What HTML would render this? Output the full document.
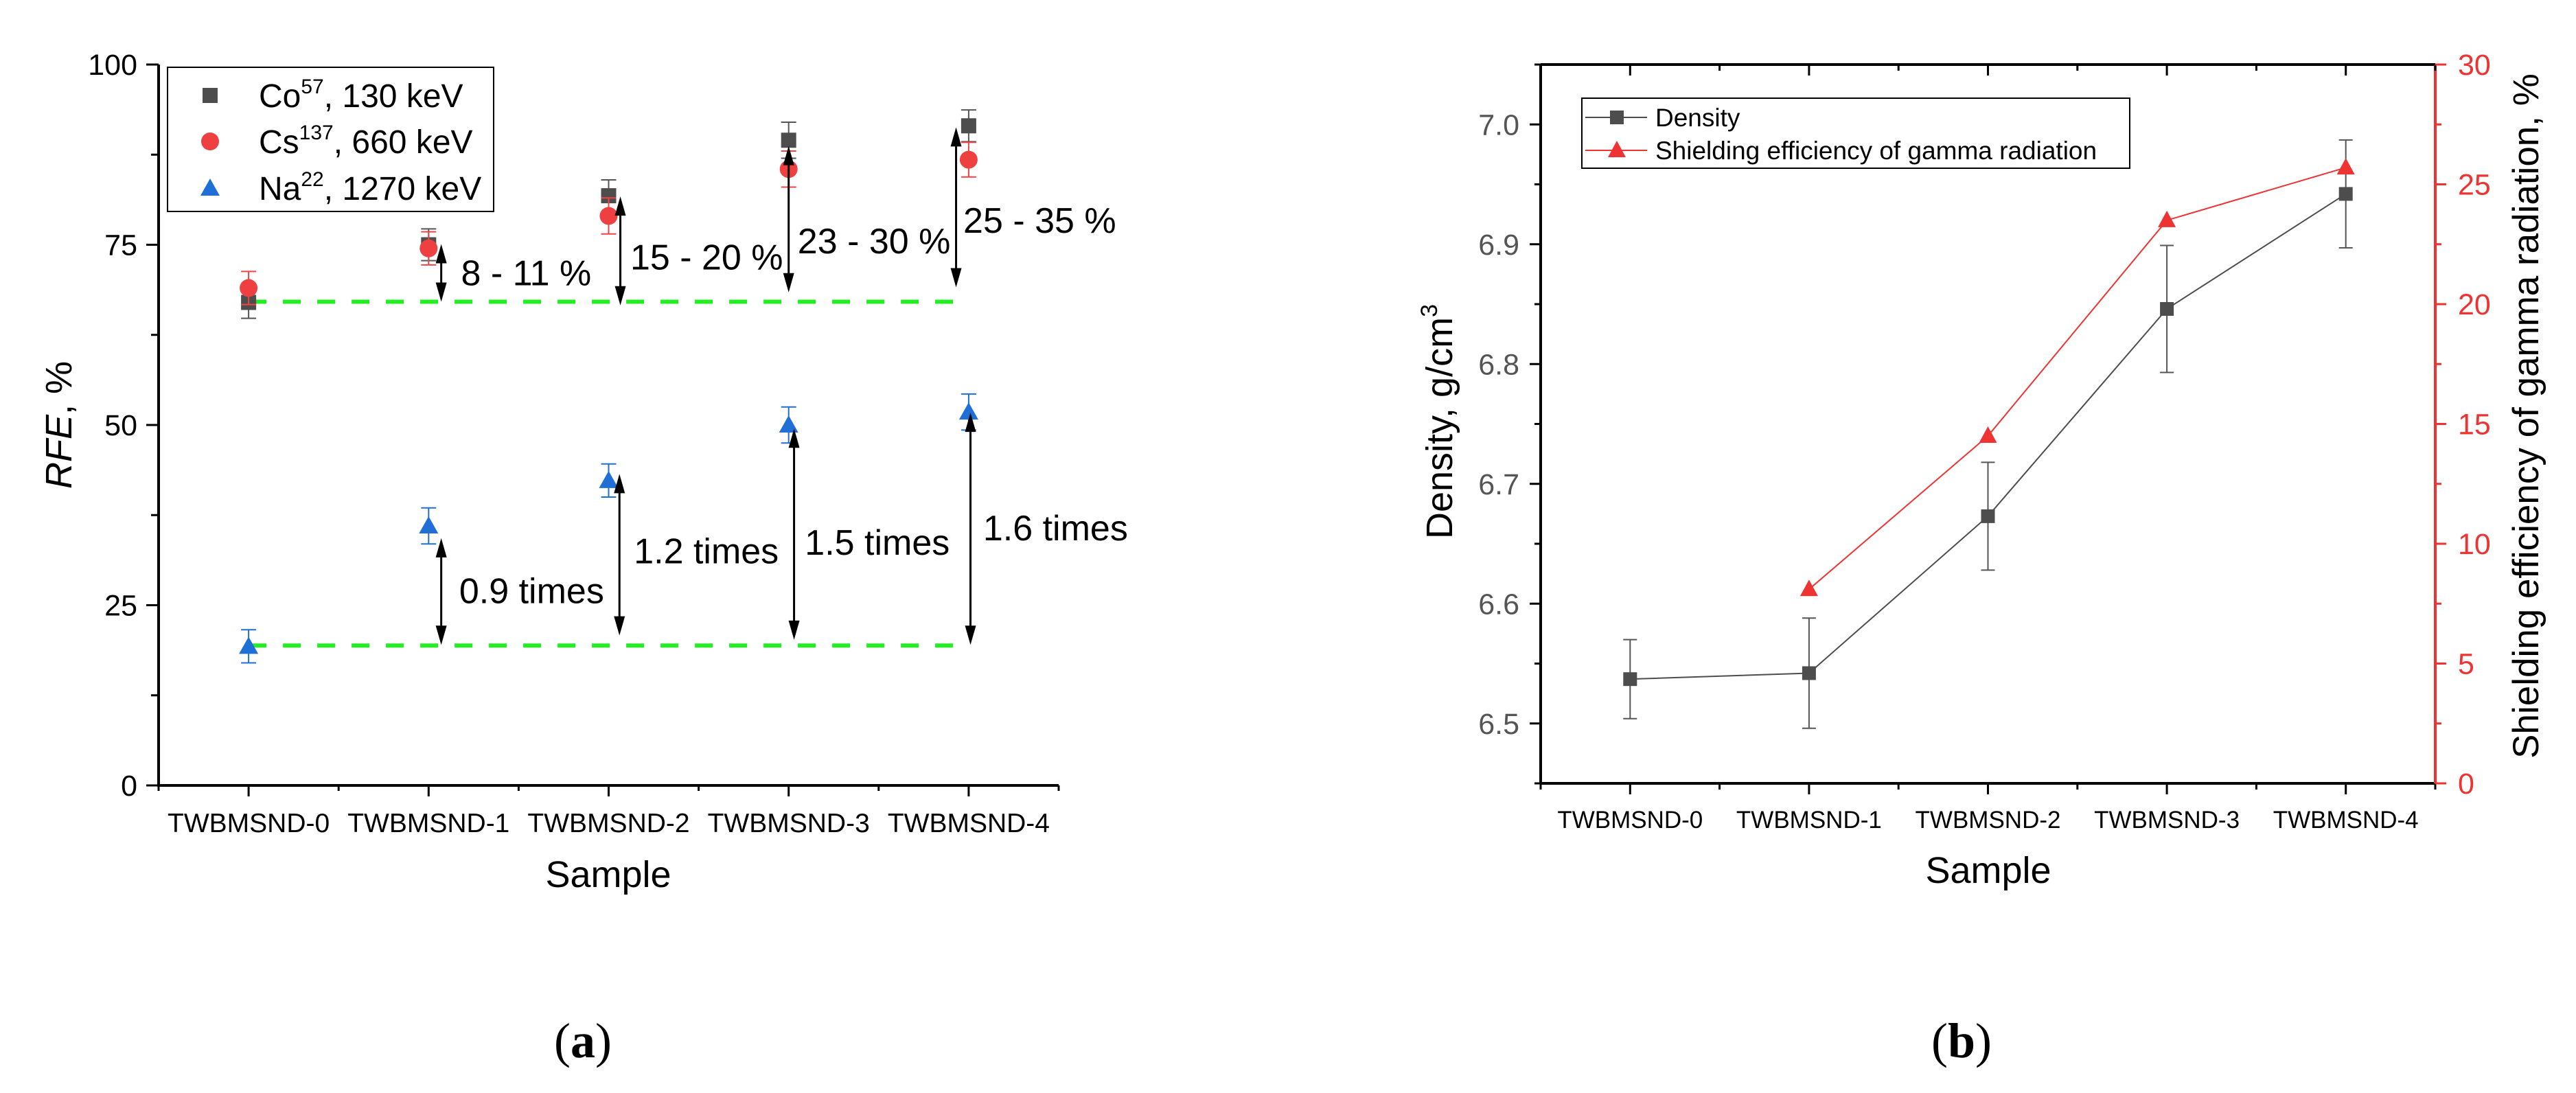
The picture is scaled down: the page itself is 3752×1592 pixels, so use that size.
<!DOCTYPE html>
<html><head><meta charset="utf-8"><style>
html,body{margin:0;padding:0;background:#fff}
svg{display:block;font-family:"Liberation Sans",sans-serif}
</style></head><body>
<svg id="svg" width="3752" height="1592" viewBox="0 0 3752 1592" xmlns="http://www.w3.org/2000/svg">
<g id="A"></g>
<g id="B"></g>
<text x="849" y="1540" font-family="Liberation Serif,serif" font-size="72" text-anchor="middle">(<tspan font-weight="bold">a</tspan>)</text>
<text x="2857" y="1540" font-family="Liberation Serif,serif" font-size="72" text-anchor="middle">(<tspan font-weight="bold">b</tspan>)</text>
</svg>
<script>
const categories=["TWBMSND-0","TWBMSND-1","TWBMSND-2","TWBMSND-3","TWBMSND-4"];
const coValues=[67,75,81.8,89.5,91.5];
const csValues=[69,74.5,79,85.5,86.8];
const naValues=[19.3,36,42.3,50,51.8];
const coErr=[2.2,2.2,2.2,2.5,2.2];
const csErr=[2.3,2.3,2.5,2.5,2.4];
const naErr=[2.3,2.5,2.3,2.5,2.5];
const aTicks=[0,25,50,75,100];
const baseLines=[67.1,19.4];
const arrowX=[1.07,2.065,3.0,3.93,1.07,2.06,3.03,4.01];
const arrowLo=[67.1,66.6,68.4,69.1,19.5,20.8,20.2,19.5];
const arrowHi=[75.1,81.7,88.7,91.3,34.3,43.2,49.5,51.7];
const annoText=["8 - 11 %","15 - 20 %","23 - 30 %","25 - 35 %","0.9 times","1.2 times","1.5 times","1.6 times"];
const annoX=[1.18,2.12,3.05,3.97,1.17,2.14,3.09,4.08];
const annoY=[71.2,73.4,75.6,78.5,27.1,32.6,33.8,35.8];

const densValues=[6.537,6.542,6.673,6.846,6.942];
const densErr=[0.033,0.046,0.045,0.053,0.045];
const shieldValues=[null,8.1,14.5,23.5,25.7];
const bLeftTicks=[6.5,6.6,6.7,6.8,6.9,7.0];
const bRightTicks=[0,5,10,15,20,25,30];

const NS="http://www.w3.org/2000/svg";
function mk(p,t,a,txt){const e=document.createElementNS(NS,t);for(const k in a)e.setAttribute(k,a[k]);if(txt!==undefined)e.textContent=txt;p.appendChild(e);return e;}

// ---- Chart A ----
const A=document.getElementById('A');
const ax=i=>231+(i+0.5)*262.2;
const ay=v=>1144-v*10.5;
mk(A,'line',{x1:231,y1:1144,x2:1542,y2:1144,stroke:'#000','stroke-width':4});
mk(A,'line',{x1:231,y1:94,x2:231,y2:1146,stroke:'#000','stroke-width':4});
for(let k=0;k<=10;k++){const x=231+k*131.1;
 mk(A,'line',{x1:x,y1:1144,x2:x,y2:k%2?1160:1152,stroke:'#000','stroke-width':3});}
for(let v=0;v<=100;v+=12.5){const major=v%25===0;
 mk(A,'line',{x1:major?213:220,y1:ay(v),x2:231,y2:ay(v),stroke:'#000','stroke-width':3});}
aTicks.forEach(v=>{const t=mk(A,'text',{x:200,y:ay(v)+15,'font-size':43,'text-anchor':'end'},v);
 
 });
categories.forEach((c,i)=>{const t=mk(A,'text',{x:ax(i),y:1212,'font-size':39,'text-anchor':'middle'},c);
 
 });
{const t=mk(A,'text',{x:886,y:1292,'font-size':54,'text-anchor':'middle'},'Sample');}
{const t=mk(A,'text',{x:0,y:0,'font-size':54,'text-anchor':'middle',transform:'translate(104,619) rotate(-90)'});
 t.innerHTML='<tspan font-style="italic">RFE</tspan>, %';}
baseLines.forEach(v=>{const l=mk(A,'line',{x1:ax(0),y1:ay(v),x2:ax(4),y2:ay(v),stroke:'#22ee22','stroke-width':6,'stroke-dasharray':'26 24'});
 
 });
function errbar(g,x,v,e,col){mk(g,'line',{x1:x,y1:ay(v-e),x2:x,y2:ay(v+e),stroke:col,'stroke-width':2});
 mk(g,'line',{x1:x-11,y1:ay(v-e),x2:x+11,y2:ay(v-e),stroke:col,'stroke-width':2});
 mk(g,'line',{x1:x-11,y1:ay(v+e),x2:x+11,y2:ay(v+e),stroke:col,'stroke-width':2});}
coValues.forEach((v,i)=>{errbar(A,ax(i),v,coErr[i],'#555');const r=mk(A,'rect',{x:ax(i)-11,y:ay(v)-11,width:22,height:22,fill:'#4d4d4d'});
 });
csValues.forEach((v,i)=>{errbar(A,ax(i),v,csErr[i],'#ee4444');const c=mk(A,'circle',{cx:ax(i),cy:ay(v),r:13,fill:'#ee4040'});
 });
naValues.forEach((v,i)=>{errbar(A,ax(i),v,naErr[i],'#1f6fd6');const x=ax(i),y=ay(v);
 const p=mk(A,'polygon',{points:`${x},${y-14} ${x-14},${y+11} ${x+14},${y+11}`,fill:'#1f6fd6'});
 });
function arrowHead(g,x,y,dir){mk(g,'polygon',{points:`${x},${y} ${x-8},${y-dir*28} ${x+8},${y-dir*28}`,fill:'#000'});}
arrowX.forEach((c,i)=>{const x=ax(c),y1=ay(arrowHi[i]),y2=ay(arrowLo[i]);
 const g=mk(A,'g',{});
 
 mk(g,'line',{x1:x,y1:y1+20,x2:x,y2:y2-20,stroke:'#000','stroke-width':3});
 arrowHead(g,x,y1,-1);arrowHead(g,x,y2,1);});
annoText.forEach((s,i)=>{const t=mk(A,'text',{x:ax(annoX[i]),y:ay(annoY[i])+19,'font-size':52},s);
 });
{const g=mk(A,'g',{});
 mk(g,'rect',{x:244,y:98,width:475,height:210,fill:'#fff',stroke:'#000','stroke-width':2});
 mk(g,'rect',{x:295,y:128,width:22,height:22,fill:'#4d4d4d'});
 mk(g,'circle',{cx:306,cy:206,r:13,fill:'#ee4040'});
 mk(g,'polygon',{points:'306,260 292,285 320,285',fill:'#1f6fd6'});
 const t1=mk(g,'text',{x:377,y:156,'font-size':48});t1.innerHTML='Co<tspan font-size="30" dy="-20">57</tspan><tspan dy="20">, 130 keV</tspan>';
 const t2=mk(g,'text',{x:377,y:223,'font-size':48});t2.innerHTML='Cs<tspan font-size="30" dy="-20">137</tspan><tspan dy="20">, 660 keV</tspan>';
 const t3=mk(g,'text',{x:377,y:291,'font-size':48});t3.innerHTML='Na<tspan font-size="30" dy="-20">22</tspan><tspan dy="20">, 1270 keV</tspan>';}

// ---- Chart B ----
const B=document.getElementById('B');
const X0=2244,X1=3547,YT=94,YB=1141;
const bx=i=>X0+(i+0.5)*(X1-X0)/5;
const byL=v=>YB-(v-6.45)/0.6*(YB-YT);
const byR=v=>YB-v/30*(YB-YT);
mk(B,'line',{x1:X0,y1:YB,x2:X1,y2:YB,stroke:'#000','stroke-width':4});
mk(B,'line',{x1:X0,y1:YT,x2:X1,y2:YT,stroke:'#000','stroke-width':4});
mk(B,'line',{x1:X0,y1:YT,x2:X0,y2:YB,stroke:'#000','stroke-width':4});
mk(B,'line',{x1:X1,y1:YT,x2:X1,y2:YB,stroke:'#ee3333','stroke-width':4});
for(let k=0;k<=10;k++){const x=X0+k*(X1-X0)/10;
 mk(B,'line',{x1:x,y1:YB,x2:x,y2:k%2?YB+16:YB+9,stroke:'#000','stroke-width':3});
 mk(B,'line',{x1:x,y1:YT,x2:x,y2:k%2?YT+16:YT+9,stroke:'#000','stroke-width':3});}
for(let v=6.45;v<=7.051;v+=0.05){const major=Math.abs(Math.round(v*10)-v*10)<0.01;
 mk(B,'line',{x1:major?X0-16:X0-9,y1:byL(v),x2:X0,y2:byL(v),stroke:'#000','stroke-width':3});}
for(let v=0;v<=30;v+=2.5){const major=v%5===0;
 mk(B,'line',{x1:X1,y1:byR(v),x2:major?X1+16:X1+9,y2:byR(v),stroke:'#ee3333','stroke-width':3});}
bLeftTicks.forEach(v=>{const t=mk(B,'text',{x:2213,y:byL(v)+15,'font-size':43,'text-anchor':'end',fill:'#555'},v.toFixed(1));
 });
bRightTicks.forEach(v=>{const t=mk(B,'text',{x:3580,y:byR(v)+15,'font-size':43,fill:'#ee3333'},v);
 });
categories.forEach((c,i)=>{const t=mk(B,'text',{x:bx(i),y:1206,'font-size':35,'text-anchor':'middle'},c);
 });
{const t=mk(B,'text',{x:2896,y:1286,'font-size':54,'text-anchor':'middle'},'Sample');}
{const t=mk(B,'text',{x:0,y:0,'font-size':54,'text-anchor':'middle',transform:'translate(2115,614) rotate(-90)'});
 t.innerHTML='Density, g/cm<tspan font-size="34" dy="-22">3</tspan>';}
{const t=mk(B,'text',{x:0,y:0,'font-size':53,'text-anchor':'middle',transform:'translate(3697,606) rotate(-90)'},'Shielding efficiency of gamma radiation, %');
 }
{const pts=densValues.map((v,i)=>bx(i)+','+byL(v)).join(' ');
 const l=mk(B,'polyline',{points:pts,fill:'none',stroke:'#4d4d4d','stroke-width':2});
 }
densValues.forEach((v,i)=>{const x=bx(i);
 mk(B,'line',{x1:x,y1:byL(v-densErr[i]),x2:x,y2:byL(v+densErr[i]),stroke:'#555','stroke-width':2});
 mk(B,'line',{x1:x-10,y1:byL(v-densErr[i]),x2:x+10,y2:byL(v-densErr[i]),stroke:'#555','stroke-width':2});
 mk(B,'line',{x1:x-10,y1:byL(v+densErr[i]),x2:x+10,y2:byL(v+densErr[i]),stroke:'#555','stroke-width':2});
 const r=mk(B,'rect',{x:x-10,y:byL(v)-10,width:20,height:20,fill:'#4d4d4d'});
 });
{const pts=shieldValues.map((v,i)=>v===null?null:bx(i)+','+byR(v)).filter(p=>p).join(' ');
 const l=mk(B,'polyline',{points:pts,fill:'none',stroke:'#ee3333','stroke-width':2});
 }
shieldValues.forEach((v,i)=>{if(v===null)return;const x=bx(i),y=byR(v);
 const p=mk(B,'polygon',{points:`${x},${y-14} ${x-13},${y+10} ${x+13},${y+10}`,fill:'#ee3333'});
 });
{const g=mk(B,'g',{});
 mk(g,'rect',{x:2304,y:143,width:798,height:102,fill:'#fff',stroke:'#000','stroke-width':2});
 mk(g,'line',{x1:2309,y1:171,x2:2399,y2:171,stroke:'#4d4d4d','stroke-width':2});
 mk(g,'rect',{x:2345,y:161,width:20,height:20,fill:'#4d4d4d'});
 mk(g,'line',{x1:2309,y1:219,x2:2399,y2:219,stroke:'#ee3333','stroke-width':2});
 mk(g,'polygon',{points:'2355,205 2342,229 2368,229',fill:'#ee3333'});
 mk(g,'text',{x:2411,y:184,'font-size':37},'Density');
 mk(g,'text',{x:2411,y:232,'font-size':37},'Shielding efficiency of gamma radiation');}
</script>
</body></html>
